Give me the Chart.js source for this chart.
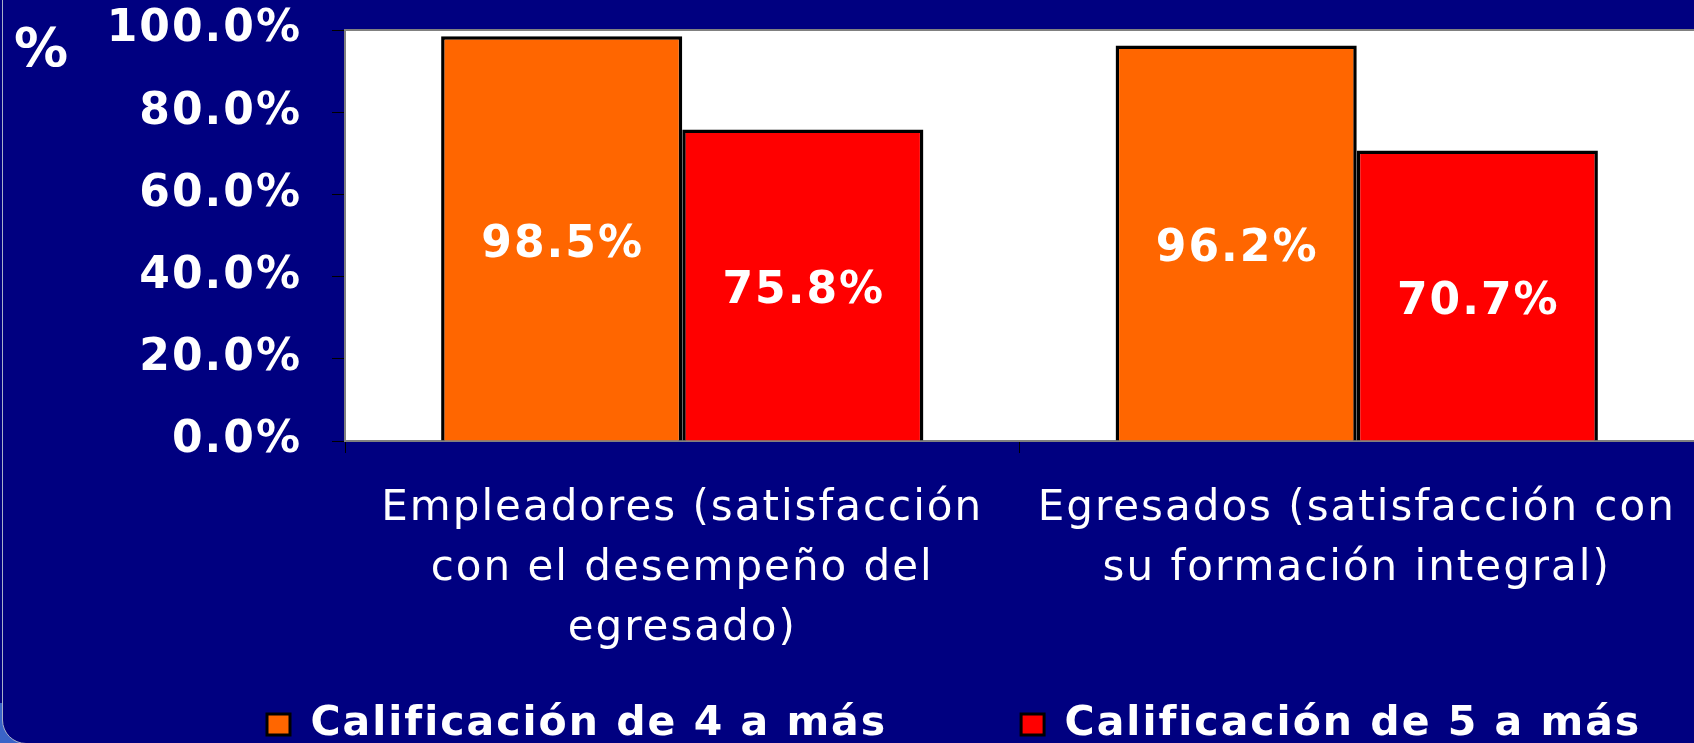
<!DOCTYPE html>
<html>
  <head>
    <meta charset="UTF-8" />
    <title>Satisfacción</title>
    <script src="https://cdn.jsdelivr.net/npm/chart.js"></script>
    <style>
      html, body {
        margin: 0;
        padding: 0;
        width: 1694px;
        height: 743px;
        overflow: hidden;
        background: #000080;
      }
      .corner {
        position: absolute;
        left: 0;
        bottom: 0;
        width: 40px;
        height: 40px;
        background: #3a64c8;
      }
      .frame {
        position: absolute;
        left: 2px;
        top: -30px;
        width: 1740px;
        height: 772px;
        border: 1px solid #a8b0c8;
        border-bottom-left-radius: 24px;
        background: #000080;
      }
      canvas {
        position: absolute;
        left: 0;
        top: 0;
      }
    </style>
  </head>
  <body>
    <div class="corner"></div>
    <div class="frame"></div>
    <canvas id="chart" width="1694" height="755"></canvas>
    <script>
      const categories = [
        ["Empleadores (satisfacción", "con el desempeño del", "egresado)"],
        ["Egresados (satisfacción con", "su formación integral)"],
      ];
      const seriesNames = ["Calificación de 4 a más", "Calificación de 5 a más"];
      const rating4 = [98.5, 96.2];
      const rating5 = [75.8, 70.7];
      const yMax = 100;
      const yStep = 20;

      const FONT = "'DejaVu Sans', Verdana, sans-serif";
      const LS = "2px";

      // spaced-out lettering like the original slide
      const spacing = {
        id: "spacing",
        beforeUpdate(chart) { chart.ctx.letterSpacing = LS; },
        beforeLayout(chart) { chart.ctx.letterSpacing = LS; },
        beforeDraw(chart) { chart.ctx.letterSpacing = LS; },
      };

      const plotBox = {
        id: "plotBox",
        beforeDraw(chart) {
          const { ctx, chartArea: a } = chart;
          ctx.save();
          ctx.fillStyle = "#ffffff";
          ctx.fillRect(a.left, a.top, a.right - a.left, a.bottom - a.top);
          ctx.restore();
        },
        afterDraw(chart) {
          const { ctx, chartArea: a } = chart;
          ctx.save();
          ctx.strokeStyle = "#808080";
          ctx.lineWidth = 2;
          ctx.beginPath();
          ctx.moveTo(a.left, a.top);
          ctx.lineTo(a.right, a.top);
          ctx.stroke();
          // unit label in the corner
          ctx.letterSpacing = "0px";
          ctx.fillStyle = "#ffffff";
          ctx.font = "bold 54px " + FONT;
          ctx.textAlign = "center";
          ctx.textBaseline = "middle";
          ctx.fillText("%", 41, 52);
          ctx.restore();
        },
      };

      const barLabels = {
        id: "barLabels",
        afterDatasetsDraw(chart) {
          const { ctx } = chart;
          ctx.save();
          ctx.letterSpacing = LS;
          ctx.fillStyle = "#ffffff";
          ctx.font = "bold 44px " + FONT;
          ctx.textAlign = "center";
          ctx.textBaseline = "middle";
          chart.data.datasets.forEach((ds, i) => {
            chart.getDatasetMeta(i).data.forEach((bar, j) => {
              const y = (bar.y + bar.base) / 2 + 7;
              ctx.fillText(ds.data[j].toFixed(1) + "%", bar.x + 1, y);
            });
          });
          ctx.restore();
        },
      };

      new Chart(document.getElementById("chart"), {
        type: "bar",
        data: {
          labels: categories,
          datasets: [
            {
              label: seriesNames[0],
              data: rating4,
              backgroundColor: "#ff6600",
              borderColor: "#000000",
              borderWidth: 3.5,
            },
            {
              label: seriesNames[1],
              data: rating5,
              backgroundColor: "#ff0000",
              borderColor: "#000000",
              borderWidth: 3.5,
            },
          ],
        },
        options: {
          responsive: false,
          animation: false,
          categoryPercentage: 0.715,
          barPercentage: 1.0,
          layout: { padding: { left: 247, top: 30, right: 0, bottom: 0 } },
          scales: {
            x: {
              grid: {
                offset: true,
                drawOnChartArea: false,
                color: "#000000",
                tickLength: 12,
              },
              border: { color: "#808080", width: 2 },
              ticks: {
                color: "#ffffff",
                maxRotation: 0,
                autoSkip: false,
                padding: 26,
                font: { family: FONT, size: 42, lineHeight: "60px" },
              },
              afterFit(s) {
                s.height = 243;
                // plot runs to the right edge of the slide
                s.paddingLeft = 0;
                s.paddingRight = 0;
              },
            },
            y: {
              min: 0,
              max: yMax,
              grid: {
                drawOnChartArea: false,
                color: "#000000",
                tickLength: 13,
              },
              border: { color: "#808080", width: 2 },
              ticks: {
                stepSize: yStep,
                color: "#ffffff",
                padding: 30,
                font: { family: FONT, size: 44, weight: "bold" },
                callback: (v) => v.toFixed(1) + "%",
              },
              afterFit(s) {
                s.width = 98;
                s.paddingTop = 0;
                s.paddingBottom = 0;
                // labels reach out past the axis box into the left margin
                s._computeLabelArea = () => undefined;
              },
            },
          },
          plugins: {
            tooltip: { enabled: false },
            legend: {
              position: "bottom",
              align: "start",
              labels: {
                color: "#ffffff",
                boxWidth: 23,
                boxHeight: 21,
                padding: 20,
                font: { family: FONT, size: 41, weight: "bold" },
                generateLabels(chart) {
                  const items = Chart.defaults.plugins.legend.labels.generateLabels(chart);
                  items.forEach((it) => { it.lineWidth = 3; });
                  items[0].text += "\u00a0".repeat(7);
                  return items;
                },
              },
            },
          },
        },
        plugins: [spacing, plotBox, barLabels],
      });
    </script>
  </body>
</html>
